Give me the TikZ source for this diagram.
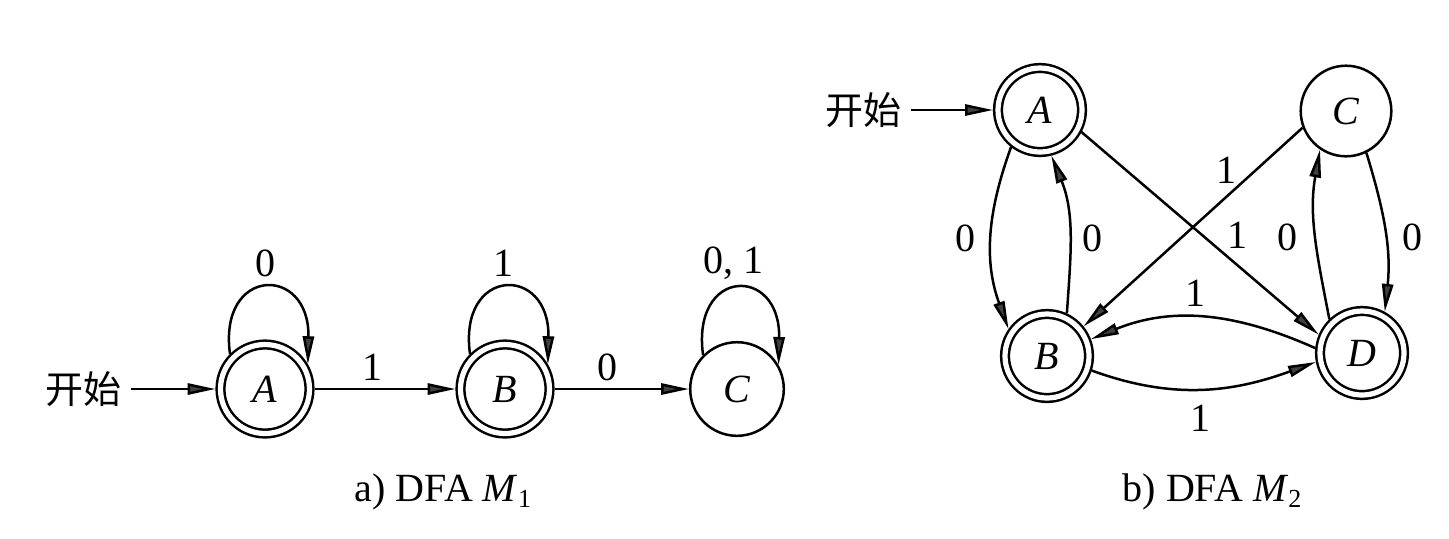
\documentclass[tikz,border=0pt]{standalone}
\usepackage{fontspec}
\setmainfont{Liberation Serif}
\newfontfamily\cjk{Noto Sans CJK SC}
\usetikzlibrary{arrows.meta}
\tikzset{
  base/.style={circle, draw, line width=1.25pt, inner sep=0pt, font=\fontsize{20}{24}\selectfont\itshape},
  acc/.style={base, double, double distance=2.6pt, outer sep=2.5pt},
  single/.style={base, outer sep=0.6pt},
  edge/.style={line width=1.25pt, -{Triangle[length=14pt,width=5.6pt,fill=black!75]}},
  lbl/.style={font=\fontsize{20}{24}\selectfont, inner sep=0pt},
  cjklbl/.style={font=\cjk\fontsize{19}{22}\selectfont, inner ysep=0pt, inner xsep=5pt},
}
\newcommand{\subidx}[1]{\raisebox{-0.3ex}{\fontsize{13}{13}\selectfont #1}}
\begin{document}
\begin{tikzpicture}[x=0.5pt, y=-0.5pt]
\useasboundingbox[fill=white] (0,0) rectangle (1449,538);

% ---------- M1 ----------
\node[acc, minimum size=44.5pt] (A1) at (265,389) {A};
\node[acc, minimum size=44.5pt] (B1) at (505,389) {B};
\node[single, minimum size=46.8pt] (C1) at (737,389) {C};
\node[cjklbl] (s1) at (83,389) {开始};

\draw[edge] (s1.east) -- (A1.west);
\draw[edge] (A1) -- (B1);
\draw[edge] (B1) -- (C1);
\draw[edge] (A1.135) .. controls +(-12,-88) and +(2,-100) .. (A1.30);
\draw[edge] (B1.135) .. controls +(-12,-88) and +(2,-100) .. (B1.30);
\draw[edge] (C1.135) .. controls +(-12,-88) and +(2,-100) .. (C1.30);

\node[lbl] (lA1) at (265,263) {0};
\node[lbl] (lB1) at (503,263) {1};
\node[lbl] (lC1) at (733,263) {0, 1};
\node[lbl] (lAB1) at (372,367) {1};
\node[lbl] (lBC1) at (607,367) {0};

\node[lbl] (cap1) at (443,492) {a) DFA \textit{M}\subidx{1}};

% ---------- M2 ----------
\node[acc, minimum size=42pt] (A2) at (1040,110) {A};
\node[single, minimum size=45.3pt] (C2) at (1346,111) {C};
\node[acc, minimum size=42pt] (B2) at (1047,356) {B};
\node[acc, minimum size=42pt] (D2) at (1362,353) {D};
\node[cjklbl] (s2) at (863,110) {开始};

\draw[edge] (s2.east) -- (A2.west);
\draw[edge] (A2.232) to[out=-110,in=110] (B2.145);
\draw[edge] (B2.65) to[out=86,in=-68] (A2.-76);
\draw[edge] (A2.-28) -- (D2.157);
\draw[edge] (C2.201) -- (B2.39);
\draw[edge] (D2.174) to[out=156,in=22] (B2.21);
\draw[edge] (B2.-18) to[out=-20,in=-160] (D2.-169);
\draw[edge] (D2.134) to[out=101,in=-100] (C2.236);
\draw[edge] (C2.-64) to[out=-73,in=84] (D2.61);

\node[lbl] (l1) at (965,238) {0};
\node[lbl] (l2) at (1092,238) {0};
\node[lbl] (l3) at (1226,170) {1};
\node[lbl] (l4) at (1237,235) {1};
\node[lbl] (l5) at (1195,293) {1};
\node[lbl] (l6) at (1200,418) {1};
\node[lbl] (l7) at (1287,237) {0};
\node[lbl] (l8) at (1412,237) {0};

\node[lbl] (cap2) at (1212,492) {b) DFA \textit{M}\subidx{2}};
\end{tikzpicture}
\end{document}
